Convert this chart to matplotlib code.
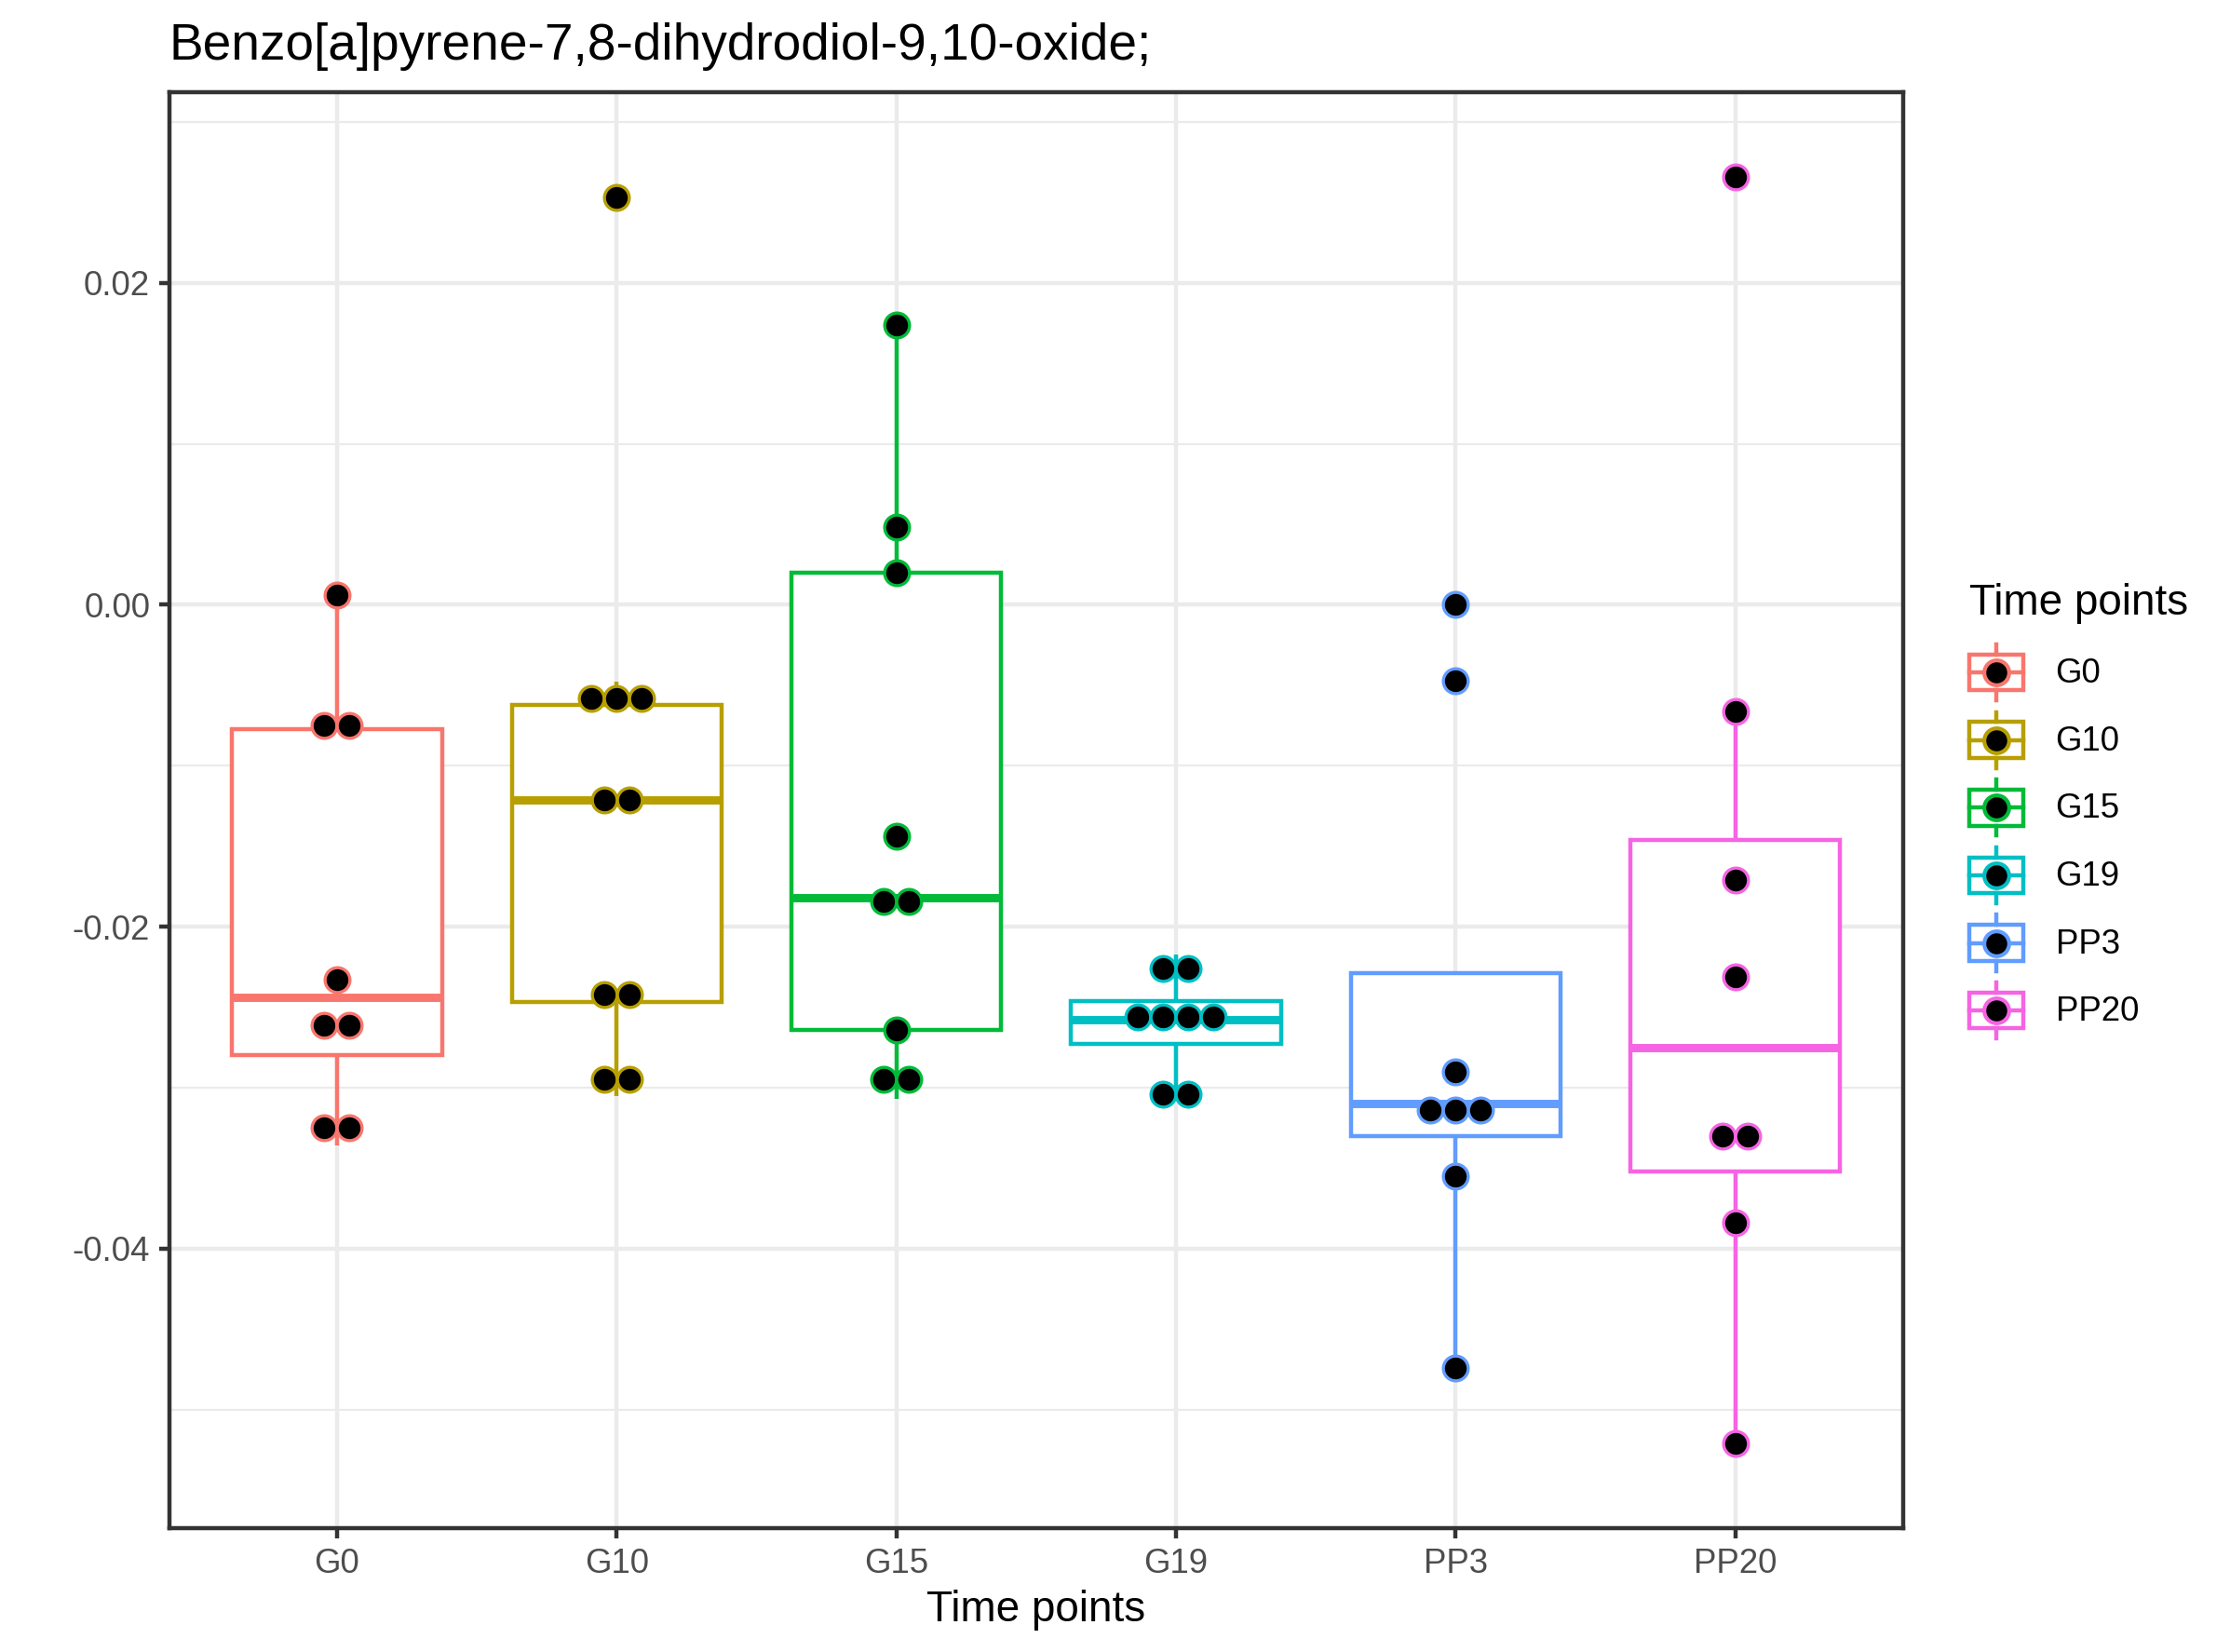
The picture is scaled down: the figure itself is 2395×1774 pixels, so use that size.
import numpy as np
import matplotlib
matplotlib.use('Agg')
import matplotlib.pyplot as plt
from matplotlib.patches import Rectangle
from matplotlib.lines import Line2D
from matplotlib.legend_handler import HandlerBase

plt.rcParams['font.family'] = ['Liberation Sans', 'DejaVu Sans']
plt.rcParams['axes.unicode_minus'] = False

# данные
groups = ['G0', 'G10', 'G15', 'G19', 'PP3', 'PP20']
colors = ['#F8766D', '#B79F00', '#00BA38', '#00BFC4', '#619CFF', '#F564E3']

dots_G0 = [0.0006, -0.0075, -0.0075, -0.0233, -0.0261, -0.0261, -0.0325, -0.0325]
dots_G10 = [0.0253, -0.0058, -0.0058, -0.0058, -0.0121, -0.0121, -0.0242, -0.0242, -0.0295, -0.0295]
dots_G15 = [0.0174, 0.0048, 0.0020, -0.0144, -0.0184, -0.0184, -0.0264, -0.0295, -0.0295]
dots_G19 = [-0.0226, -0.0226, -0.0256, -0.0256, -0.0256, -0.0256, -0.0304, -0.0304]
dots_PP3 = [0.0000, -0.0047, -0.0290, -0.0314, -0.0314, -0.0314, -0.0355, -0.0474]
dots_PP20 = [0.0266, -0.0066, -0.0171, -0.0231, -0.0330, -0.0330, -0.0384, -0.0521]
dots = [dots_G0, dots_G10, dots_G15, dots_G19, dots_PP3, dots_PP20]

# статистика боксов
q1 = [-0.0280, -0.0247, -0.0264, -0.0273, -0.0330, -0.0352]
med = [-0.0244, -0.0121, -0.0182, -0.0258, -0.0310, -0.0275]
q3 = [-0.0077, -0.0062, 0.0020, -0.0246, -0.0229, -0.0146]
whislo = [-0.0336, -0.0305, -0.0307, -0.0306, -0.0474, -0.0521]
whishi = [0.0006, -0.0048, 0.0174, -0.0217, -0.0229, -0.0067]

LW = 1.07
fig = plt.figure(figsize=(2395 / 300, 1774 / 300), dpi=300)
ax = fig.add_axes([119 / 1568, 1 - 1074 / 1161, (1338 - 119) / 1568, (1074 - 65) / 1161])

pos = np.arange(1, len(groups) + 1)
stats = [dict(med=med[i], q1=q1[i], q3=q3[i], whislo=whislo[i], whishi=whishi[i], fliers=[])
         for i in range(len(groups))]
bp = ax.bxp(stats, positions=pos, widths=0.75, showcaps=False, showfliers=False,
            patch_artist=True, manage_ticks=False, zorder=2)
for i, c in enumerate(colors):
    bp['boxes'][i].set(facecolor='white', edgecolor=c, linewidth=LW)
    bp['medians'][i].set(color=c, linewidth=2 * LW, solid_capstyle='butt')
    for w in bp['whiskers'][2 * i:2 * i + 2]:
        w.set(color=c, linewidth=LW, solid_capstyle='butt')

# точки (dotplot, одинаковые значения ставим рядом)
dot_w = 0.09
for i, (vals, c) in enumerate(zip(dots, colors)):
    u, cnt = np.unique(vals, return_counts=True)
    for v, n in zip(u, cnt):
        xs = pos[i] + (np.arange(n) - (n - 1) / 2) * dot_w
        ax.plot(xs, np.full(n, v), 'o', ms=6.4, mfc='black', mec=c, mew=0.8,
                ls='none', zorder=4)

ax.set_xlim(0.4, 6.6)
ax.set_ylim(-0.05736, 0.03182)
ax.set_xticks(pos)
ax.set_xticklabels(groups)
ax.set_yticks([-0.04, -0.02, 0.0, 0.02])
ax.set_yticklabels(['-0.04', '-0.02', '0.00', '0.02'])
ax.set_yticks([-0.05, -0.03, -0.01, 0.01, 0.03], minor=True)
ax.grid(True, which='major', color='#EBEBEB', linewidth=LW, zorder=0)
ax.grid(True, which='minor', axis='y', color='#EBEBEB', linewidth=LW / 2, zorder=0)
ax.set_axisbelow(True)
ax.tick_params(which='major', length=2.75, width=LW, color='#333333', pad=2.2,
               labelsize=8.8, labelcolor='#4D4D4D')
ax.tick_params(which='minor', length=0)
for s in ax.spines.values():
    s.set_color('#333333')
    s.set_linewidth(LW)
    s.set_zorder(5)

ax.set_xlabel('Time points', fontsize=11, labelpad=2.5)
fig.text(119 / 1568, 1 - 42 / 1161, 'Benzo[a]pyrene-7,8-dihydrodiol-9,10-oxide;',
         fontsize=13.2, ha='left', va='baseline')


class BoxDotHandler(HandlerBase):
    def create_artists(self, legend, orig_handle, xdescent, ydescent, width, height, fontsize, trans):
        c = orig_handle.get_color()
        x0, y0 = -xdescent, -ydescent
        cx, cy = x0 + width / 2, y0 + height / 2
        bh = height * 0.53
        wh = height * 0.83
        rect = Rectangle((x0, cy - bh / 2), width, bh, fill=False, ec=c, lw=LW, transform=trans)
        mid = Line2D([x0, x0 + width], [cy, cy], color=c, lw=LW, transform=trans)
        wt = Line2D([cx, cx], [cy + bh / 2, cy + wh / 2], color=c, lw=LW, transform=trans)
        wb = Line2D([cx, cx], [cy - bh / 2, cy - wh / 2], color=c, lw=LW, transform=trans)
        dot = Line2D([cx], [cy], marker='o', ms=6.4, mfc='black', mec=c, mew=1.0,
                     ls='none', transform=trans)
        return [rect, mid, wt, wb, dot]


handles = [Line2D([], [], color=c) for c in colors]
leg = fig.legend(handles, groups, loc='center left', bbox_to_anchor=(1385 / 1568, 0.5074),
                 frameon=False, fontsize=8.8, title='Time points', title_fontsize=11,
                 handler_map={Line2D: BoxDotHandler()}, handlelength=1.56, handleheight=2.67,
                 labelspacing=0.0, handletextpad=0.95, borderpad=0.0, borderaxespad=0.0,
                 alignment='left')
# отступ между заголовком легенды и ключами
leg._legend_box.sep = 3.7

fig.savefig('out.png', dpi=300)
